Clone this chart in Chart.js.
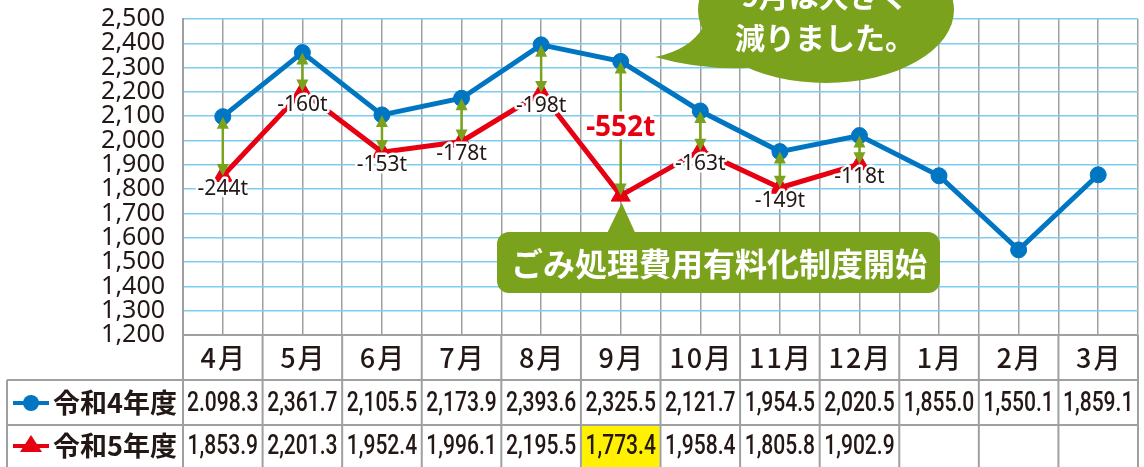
<!DOCTYPE html>
<html lang="ja">
<head>
<meta charset="utf-8">
<script src="https://cdn.jsdelivr.net/npm/chart.js@4.4.1/dist/chart.umd.min.js"></script>
<style>
  html, body { margin: 0; padding: 0; background: #fff; overflow: hidden; }
  #wrap { position: relative; width: 1150px; height: 467px; }
</style>
</head>
<body>
<div id="wrap"><canvas id="chart" width="1150" height="467"></canvas></div>
<script>
// データ（単位: t）
const months = ['4月', '5月', '6月', '7月', '8月', '9月', '10月', '11月', '12月', '1月', '2月', '3月'];
const r4 = [2098.3, 2361.7, 2105.5, 2173.9, 2393.6, 2325.5, 2121.7, 1954.5, 2020.5, 1855.0, 1550.1, 1859.1];
const r5 = [1853.9, 2201.3, 1952.4, 1996.1, 2195.5, 1773.4, 1958.4, 1805.8, 1902.9];
// 表に載っている文字（元の表記のまま）
const r4Text = ['2.098.3', '2,361.7', '2,105.5', '2,173.9', '2,393.6', '2,325.5', '2,121.7', '1,954.5', '2,020.5', '1,855.0', '1,550.1', '1,859.1'];
const r5Text = ['1,853.9', '2,201.3', '1,952.4', '1,996.1', '2,195.5', '1,773.4', '1,958.4', '1,805.8', '1,902.9'];
const seriesNames = ['令和4年度', '令和5年度'];
const highlightIdx = 5;

const BLUE = '#0075c2';
const RED = '#e60012';
const GREEN = '#7aa21d';
const LBLUE = '#7dcdf2';
const GRAY = '#9fa0a0';
const TEXT = '#231815';
const JP = '"Noto Sans CJK JP", sans-serif';

function haloText(ctx, txt, x, y, w) {
  ctx.lineJoin = 'round';
  ctx.strokeStyle = '#fff';
  ctx.lineWidth = w;
  ctx.strokeText(txt, x, y);
  ctx.fillText(txt, x, y);
}

// 矢印・差分ラベル・吹き出し・下の表
const extras = {
  id: 'extras',
  afterDatasetsDraw(chart) {
    const { ctx, scales: { x, y } } = chart;
    ctx.save();

    // 緑の矢印
    r5.forEach((v, i) => {
      const px = x.getPixelForValue(i);
      const yb = y.getPixelForValue(r4[i]);
      const yr = y.getPixelForValue(v);
      ctx.strokeStyle = GREEN;
      ctx.lineWidth = 2.5;
      ctx.beginPath();
      ctx.moveTo(px, yb + 8);
      ctx.lineTo(px, yr - 8);
      ctx.stroke();
      ctx.fillStyle = GREEN;
      ctx.beginPath();
      ctx.moveTo(px, yb);
      ctx.lineTo(px - 6, yb + 12);
      ctx.lineTo(px + 6, yb + 12);
      ctx.fill();
      ctx.beginPath();
      ctx.moveTo(px, yr);
      ctx.lineTo(px - 6, yr - 12);
      ctx.lineTo(px + 6, yr - 12);
      ctx.fill();
    });

    // 差分ラベル
    ctx.textAlign = 'center';
    ctx.textBaseline = 'middle';
    r5.forEach((v, i) => {
      const diff = Math.round(v - r4[i]) + 't';
      const px = x.getPixelForValue(i);
      if (i === highlightIdx) {
        const mid = (y.getPixelForValue(r4[i]) + y.getPixelForValue(v)) / 2;
        ctx.font = 'bold 28px "Noto Sans", sans-serif';
        ctx.fillStyle = RED;
        haloText(ctx, diff, px, mid, 7);
      } else {
        ctx.font = '21px "Noto Sans", sans-serif';
        ctx.fillStyle = TEXT;
        haloText(ctx, diff, px, y.getPixelForValue(v) + 13, 5);
      }
    });

    // 上の吹き出し
    ctx.fillStyle = GREEN;
    ctx.beginPath();
    ctx.ellipse(826, 10, 128, 73, 0, 0, Math.PI * 2);
    ctx.fill();
    ctx.beginPath();
    ctx.moveTo(704, 26);
    ctx.quadraticCurveTo(690, 50, 655, 57);
    ctx.quadraticCurveTo(700, 70, 748, 68);
    ctx.fill();
    ctx.fillStyle = '#fff';
    ctx.font = 'bold 30px ' + JP;
    ctx.fillText('9月は大きく', 825, -4);
    ctx.fillText('減りました。', 825, 38);

    // 下の吹き出し
    const px9 = x.getPixelForValue(highlightIdx);
    ctx.fillStyle = GREEN;
    ctx.beginPath();
    ctx.moveTo(px9 - 14, 234);
    ctx.lineTo(px9 + 1, 203);
    ctx.lineTo(px9 + 15, 234);
    ctx.fill();
    ctx.beginPath();
    ctx.roundRect(497, 232, 443, 61, 12);
    ctx.fill();
    ctx.fillStyle = '#fff';
    ctx.font = 'bold 32px ' + JP;
    ctx.fillText('ごみ処理費用有料化制度開始', 719, 264);

    ctx.restore();
  },
  afterDraw(chart) {
    const { ctx, scales: { x } } = chart;
    const cols = [];
    for (let i = 0; i <= months.length; i++) cols.push(x.getPixelForValue(i - 0.5));
    const rows = [335, 380, 425, 468];
    const right = cols[cols.length - 1];
    ctx.save();

    ctx.fillStyle = '#fff100';
    ctx.fillRect(cols[highlightIdx] + 1, rows[2] + 1, cols[highlightIdx + 1] - cols[highlightIdx] - 2, rows[3] - rows[2]);

    ctx.strokeStyle = GRAY;
    ctx.lineWidth = 2;
    ctx.beginPath();
    cols.forEach(c => { ctx.moveTo(c, rows[0]); ctx.lineTo(c, rows[3]); });
    ctx.moveTo(cols[0], rows[0]); ctx.lineTo(right, rows[0]);
    ctx.moveTo(7, rows[1]); ctx.lineTo(right, rows[1]);
    ctx.moveTo(7, rows[2]); ctx.lineTo(right, rows[2]);
    ctx.moveTo(7, rows[1]); ctx.lineTo(7, rows[3]);
    ctx.stroke();

    ctx.fillStyle = TEXT;
    ctx.textAlign = 'center';
    ctx.textBaseline = 'middle';
    ctx.font = '500 27px ' + JP;
    ctx.letterSpacing = '2px';
    months.forEach((m, i) => ctx.fillText(m, x.getPixelForValue(i) + 1, 358));
    ctx.letterSpacing = '0px';

    const cond = (txt, cx, cy) => {
      ctx.save();
      ctx.translate(cx, cy);
      ctx.scale(0.78, 1);
      ctx.fillText(txt, 0, 0);
      ctx.restore();
    };
    ctx.font = '500 27px Roboto, sans-serif';
    r4Text.forEach((t, i) => cond(t, x.getPixelForValue(i), 404));
    r5Text.forEach((t, i) => cond(t, x.getPixelForValue(i), 447));

    // 凡例
    const ly = [403, 446];
    ctx.lineWidth = 4;
    ctx.strokeStyle = BLUE;
    ctx.beginPath(); ctx.moveTo(13, ly[0]); ctx.lineTo(49, ly[0]); ctx.stroke();
    ctx.fillStyle = BLUE;
    ctx.beginPath(); ctx.arc(31, ly[0], 8, 0, Math.PI * 2); ctx.fill();
    ctx.strokeStyle = RED;
    ctx.beginPath(); ctx.moveTo(13, ly[1]); ctx.lineTo(49, ly[1]); ctx.stroke();
    ctx.fillStyle = RED;
    ctx.beginPath(); ctx.moveTo(31, ly[1] - 11); ctx.lineTo(42, ly[1] + 6); ctx.lineTo(20, ly[1] + 6); ctx.fill();

    ctx.fillStyle = TEXT;
    ctx.textAlign = 'left';
    ctx.font = 'bold 27px ' + JP;
    ctx.fillText(seriesNames[0], 53, ly[0]);
    ctx.fillText(seriesNames[1], 53, ly[1]);

    ctx.restore();
  }
};

new Chart(document.getElementById('chart'), {
  type: 'line',
  data: {
    datasets: [
      {
        label: seriesNames[0],
        data: r4.map((v, i) => ({ x: i, y: v })),
        borderColor: BLUE,
        backgroundColor: BLUE,
        borderWidth: 5,
        pointRadius: 8,
        pointBorderWidth: 1,
        tension: 0
      },
      {
        label: seriesNames[1],
        data: r5.map((v, i) => ({ x: i, y: v })),
        borderColor: RED,
        backgroundColor: RED,
        borderWidth: 5,
        pointStyle: 'triangle',
        pointRadius: 11,
        pointBorderWidth: 1,
        tension: 0
      }
    ]
  },
  options: {
    responsive: false,
    animation: false,
    layout: { padding: { top: 19, right: 1, bottom: 132, left: 0 } },
    plugins: { legend: { display: false }, tooltip: { enabled: false } },
    scales: {
      x: {
        type: 'linear',
        min: -0.5,
        max: 11.5,
        afterFit: s => { s.height = 0; },
        ticks: { display: false, stepSize: 0.5, maxTicksLimit: 40 },
        grid: { color: GRAY, lineWidth: 1.5, drawTicks: false },
        border: { display: false }
      },
      y: {
        min: 1200,
        max: 2500,
        afterFit: s => { s.width = 183; },
        ticks: {
          stepSize: 100,
          maxTicksLimit: 40,
          autoSkip: false,
          padding: 2,
          color: TEXT,
          font: { family: '"Noto Sans"', size: 25, lineHeight: 1 },
          callback: v => v.toLocaleString('en-US')
        },
        grid: {
          color: c => (c.tick && c.tick.value === 1200 ? GRAY : LBLUE),
          lineWidth: 1.5,
          drawTicks: true,
          tickLength: 16,
          tickColor: 'rgba(0,0,0,0)'
        },
        border: { color: GRAY, width: 2 }
      }
    }
  },
  plugins: [extras]
});
</script>
</body>
</html>
